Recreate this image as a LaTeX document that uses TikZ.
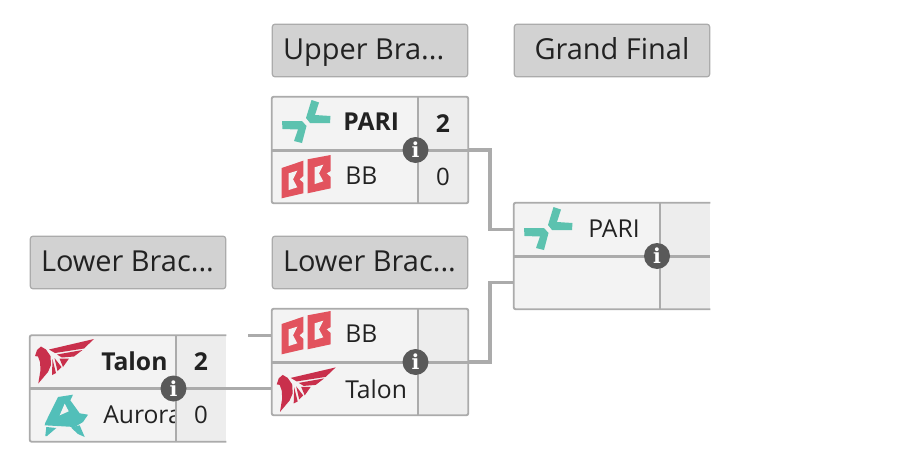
\documentclass[tikz,border=0pt]{standalone}
\usepackage{fontspec}
\setmainfont{Open Sans}
\newfontfamily\infofont{DejaVu Serif}

\definecolor{edgegray}{HTML}{ABABAB}
\definecolor{headgray}{HTML}{D2D2D2}
\definecolor{rowgray}{HTML}{F3F3F3}
\definecolor{scoregray}{HTML}{EDEDED}
\definecolor{infogray}{HTML}{595959}
\definecolor{textgray}{HTML}{222222}
\definecolor{pariteal}{HTML}{5CC2AF}
\definecolor{auroraTeal}{HTML}{52BFB9}
\definecolor{bbred}{HTML}{E2535E}
\definecolor{talonred}{HTML}{C9304C}

\newcommand{\headlabel}[1]{\makebox[130.5pt][l]{#1}}

\tikzset{
	header/.style={draw=edgegray,fill=headgray,line width=.9pt,rounded corners=2pt,minimum width=146.5pt,minimum height=39.5pt,inner sep=0pt,text=textgray,text height=16pt,text depth=1.8pt,font=\fontsize{21.7}{24}\selectfont},
	team/.style={fill=rowgray,minimum width=109.5pt,minimum height=39.75pt,inner sep=0pt},
	score/.style={fill=scoregray,minimum width=37.5pt,minimum height=39.75pt,inner sep=0pt,text=textgray,font=\fontsize{18}{22}\selectfont},
	teamname/.style={anchor=west,inner sep=0pt,text=textgray,font=\fontsize{18.5}{22}\selectfont},
	winner/.style={font=\fontsize{18.5}{22}\selectfont\bfseries},
	frame/.style={draw=edgegray,line width=1.4pt,rounded corners=1.5pt},
	divider/.style={draw=edgegray,line width=1.5pt},
	midline/.style={draw=edgegray,line width=2.3pt},
	link/.style={draw=edgegray,line width=2.8pt},
	info/.style={circle,fill=infogray,minimum size=19.5pt,inner sep=0pt,text=white,font=\infofont\bfseries\fontsize{15.5}{15.5}\selectfont},
	pari/.pic={
		\fill[pariteal] (-25,-1) -- (-5,-1) -- (-.5,4) -- (-5,21) -- (-13,19) -- (-9,7.5) -- (-24.5,7) -- cycle;
		\fill[pariteal] (4.5,-22) -- (12,-19.5) -- (8,-7) -- (23.5,-6) -- (23,1) -- (3,1) -- (-1,-4) -- cycle;
	},
	bb/.pic={
		\fill[bbred] (-24.8,-9) -- (-3.2,-16.3) -- (-3.2,-1) -- (-7,2.3) -- (-3.2,6) -- (-3.2,16.3) -- (-24.8,21.3) -- cycle;
		\fill[bbred] (1.2,-17.7) -- (24.2,-22) -- (24.2,-6) -- (20,-3.7) -- (24.2,0) -- (24.2,11.3) -- (1.2,16.3) -- cycle;
		\foreach \dx/\dy in {0/0,26/-6} {
			\fill[rowgray,shift={(\dx,\dy)}] (-17.8,-3.7) -- (-9.2,-6.3) -- (-13.5,2.3) -- (-9.2,10.3) -- (-17.8,13) -- cycle;
		}
	},
	talon/.pic={
		\fill[talonred] (-16,-12.5) -- (29,-23) -- (19,-13.5) -- (-10,-9) -- cycle;
		\fill[talonred] (-8,-7.5) -- (17.5,-12) -- (9,-5.5) -- (-3,-4.5) -- cycle;
		\fill[talonred] (-5.5,-3.5) -- (4,-3.5) -- (-2,5) -- cycle;
		\fill[talonred] (-10.5,-4) -- (-3.5,5) -- (-7.5,9) -- cycle;
		\fill[talonred] (-12.5,-3) -- (-9,11) -- (-13,13) -- cycle;
		\fill[talonred] (-30,-6) -- (-28,-12) -- (-24,-15.5) -- (-19,-12.5) -- (-14.5,-6) -- (-14,3) -- (-17,10) -- (-26.7,21.5) -- (-24.5,8) -- (-25,0) -- (-27,-5.5) -- cycle;
	},
	aurora/.pic={
		\fill[auroraTeal] (-7,-19) -- (8,-21.3) -- (5.3,-15.7) -- (14.7,-2.7) -- (23,-1.3) -- (18,6) -- (9.7,11) -- (-20.3,9.3) -- (-19.7,6.7) -- cycle;
		\fill[rowgray] (-.3,-12.3) -- (3.7,-4.7) -- (-5.3,-.7) -- cycle;
		\fill[auroraTeal] (-18.7,11) -- (-8.7,12) -- (-18,20) -- (-19.7,20) -- cycle;
		\fill[auroraTeal] (6,11.5) -- (14.7,9.3) -- (19.7,21) -- (13,18) -- cycle;
	}
}

\begin{document}
\begin{tikzpicture}[x=.75pt,y=-.75pt]
	\useasboundingbox (0,0) rectangle (922,471);

	% headers
	\node (h1) [header] at (370,50.5) {\headlabel{Upper Bra...}};
	\node (h2) [header] at (612,50.5) {Grand Final};
	\node (h3) [header] at (128,262.5) {\headlabel{Lower Brac...}};
	\node (h4) [header] at (370,262.5) {\headlabel{Lower Brac...}};

	% rows
	\node (a1) [team] at (345,123.5) {};
	\node (a2) [team] at (345,176.5) {};
	\node (f1) [team] at (587,229.5) {};
	\node (f2) [team] at (587,282.5) {};
	\node (b1) [team] at (345,335.5) {};
	\node (b2) [team] at (345,388.5) {};
	\node (c1) [team] at (103,362) {};
	\node (c2) [team] at (103,415) {};

	% logos
	\pic at (307,122) {pari};
	\pic at (306.5,177) {bb};
	\pic at (549,229) {pari};
	\pic at (306.5,333) {bb};
	\pic at (306.7,390.4) {talon};
	\pic at (65,362) {talon};
	\pic at (65,416) {aurora};

	% names
	\node (n1) [teamname,winner] at (343,122) {PARI};
	\node (n2) [teamname] at (345,176) {BB};
	\node (n3) [teamname] at (588,229) {PARI};
	\node (n4) [teamname] at (345,334) {BB};
	\node (n5) [teamname] at (345,389) {Talon};
	\node (n6) [teamname,winner] at (101,361) {Talon};
	\node (n7) [teamname] at (103,415) {Aurora};

	% scores
	\node (s1) [score,winner] at (443,123.5) {2};
	\node (s2) [score] at (443,176.5) {0};
	\node (s3) [score] at (685,229.5) {};
	\node (s4) [score] at (685,282.5) {};
	\node (s5) [score] at (443,335.5) {};
	\node (s6) [score] at (443,388.5) {};
	\node (s7) [score,winner] at (201,362) {2};
	\node (s8) [score] at (201,415) {0};

	% dividers
	\draw[divider] (s1.north west) -- (s2.south west);
	\draw[divider] (s3.north west) -- (s4.south west);
	\draw[divider] (s5.north west) -- (s6.south west);
	\draw[divider] (s7.north west) -- (s8.south west);
	\draw[midline] (a1.south west) -- (s1.south east);
	\draw[midline] (f1.south west) -- (s3.south east);
	\draw[midline] (b1.south west) -- (s5.south east);
	\draw[midline] (c1.south west) -- (s7.south east);

	% frames
	\draw[frame] (a1.north west) -- (s1.north east) -- (s2.south east) -- (a2.south west) -- cycle;
	\draw[frame] (b1.north west) -- (s5.north east) -- (s6.south east) -- (b2.south west) -- cycle;
	\draw[frame] (s3.north east) -- (f1.north west) -- (f2.south west) -- (s4.south east);
	\draw[frame] (s7.north east) -- (c1.north west) -- (c2.south west) -- (s8.south east);

	% connectors
	\coordinate (stub) at (248,335.5);
	\draw[link] (s1.south east) -- ++(22,0) |- (f1.west);
	\draw[link] (s5.south east) -- ++(22,0) |- (f2.west);
	\draw[link] (s7.east |- b2.west) -- (b2.west);
	\draw[link] (stub) -- (b1.west);

	% info icons
	\node (i1) [info] at (415.5,150) {i};
	\node (i2) [info] at (657,256) {i};
	\node (i3) [info] at (415.5,362) {i};
	\node (i4) [info] at (173.5,388.5) {i};
\end{tikzpicture}
\end{document}
